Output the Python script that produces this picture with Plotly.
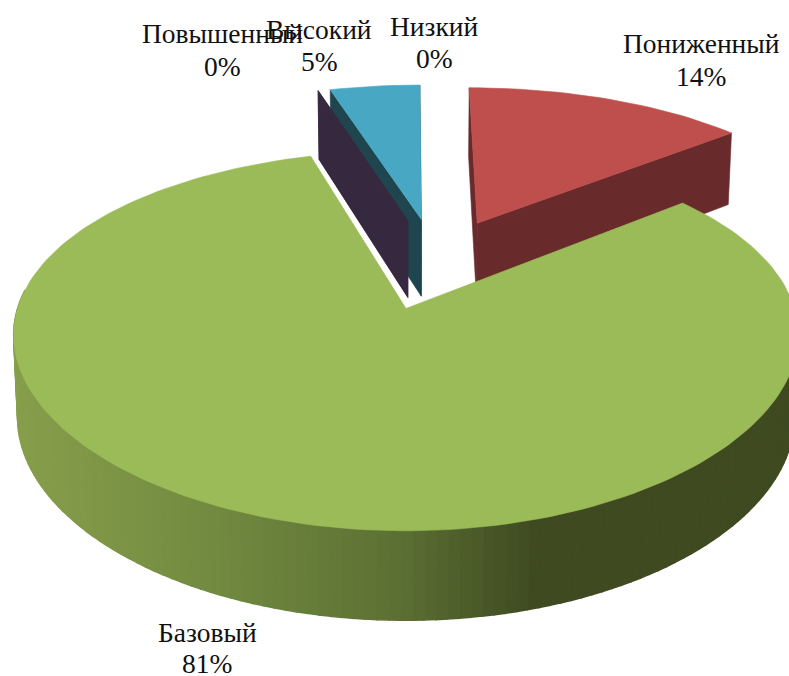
import numpy as np
import plotly.graph_objects as go

# ---- data ----
categories = ["Низкий", "Пониженный", "Базовый", "Повышенный", "Высокий"]
percents = [0, 14, 81, 0, 5]
shares = [0.0, 14.1, 81.4, 0.0, 4.5]
top_colors = ["#4F81BD", "#BE4F4C", "#9BBB59", "#8064A2", "#48A8C4"]
wall_colors = ["#2B4668", "#692A2B", "#3F4A21", "#35283F", "#1F464F"]

# ---- layout of the 3D projection ----
W, H = 789, 676
X0, Y0, A, B, KX, KY = 408, 307, 388, 184, 0.14, 0.17
CENTER = np.array([0.075, 0.25])
EXPLODE = 0.27
D0, D1, SHRINK = 81, 8.4, 0.99
label_pos = {"Низкий": (434, 26, 58), "Пониженный": (701, 43, 76), "Базовый": (207, 632, 663),
             "Повышенный": (222, 33, 66), "Высокий": (319, 29, 61)}
grad_x = [15, 200, 400, 535, 789]
grad_rgb = np.array([[135, 159, 76], [116, 140, 65], [92, 112, 52], [63, 74, 33], [63, 74, 33]])


def top(U, V):
    return X0 + A * U / (1 + KX * V), Y0 - B * V / (1 + KY * V)


def bottom(U, V):
    x, y = top(U, V)
    return X0 + (x - X0) * SHRINK, y + D0 - D1 * V


def poly(fig, x, y, color, lw=0.6):
    fig.add_trace(go.Scatter(x=list(x), y=list(y), mode="lines", fill="toself", fillcolor=color,
                             line=dict(color=color, width=lw), hoverinfo="skip", showlegend=False))


fig = go.Figure()
total = sum(shares)
edges = np.concatenate([[0], np.cumsum(shares)]) / total * 2 * np.pi
draw_order = [4, 3, 1, 2]  # the zero slice at 12 o'clock is edge-on and shows nothing
for i in draw_order:
    a0, a1 = edges[i], edges[i + 1]
    mid = (a0 + a1) / 2
    apex = CENTER + EXPLODE * np.array([np.sin(mid), np.cos(mid)])
    n = max(2, int(np.degrees(a1 - a0) / 1.5))
    t = np.linspace(a0, a1, n)
    U = apex[0] + np.sin(t)
    V = apex[1] + np.cos(t)
    # radial walls (those of the big slice lie under its own top face)
    if i != 2:
        for a in (a0, a1):
            u = np.array([apex[0], apex[0] + np.sin(a)])
            v = np.array([apex[1], apex[1] + np.cos(a)])
            xt, yt = top(u, v)
            xb, yb = bottom(u, v)
            poly(fig, [xt[0], xt[1], xb[1], xb[0], xt[0]], [yt[0], yt[1], yb[1], yb[0], yt[0]], wall_colors[i])
    if a1 > a0:
        xt, yt = top(U, V)
        xb, yb = bottom(U, V)
        for j in range(n - 1):
            if np.cos(t[j]) > 0.1:  # rear part of the rim is hidden
                continue
            if i == 2:
                xm = (xt[j] + xt[j + 1]) / 2
                rgb = [np.interp(xm, grad_x, grad_rgb[:, c]) for c in range(3)]
                col = "rgb(%d,%d,%d)" % tuple(rgb)
            else:
                col = wall_colors[i]
            poly(fig, [xt[j], xt[j + 1], xb[j + 1], xb[j], xt[j]],
                 [yt[j], yt[j + 1], yb[j + 1], yb[j], yt[j]], col, lw=1.5)
        ax, ay = top(apex[0], apex[1])
        poly(fig, [ax, *xt, ax], [ay, *yt, ay], top_colors[i])

for name, p in zip(categories, percents):
    lx, ly1, ly2 = label_pos[name]
    for txt, ly in ((name, ly1), (f"{p}%", ly2)):
        fig.add_annotation(x=lx, y=ly, text=txt, showarrow=False, xanchor="center", yanchor="middle",
                           font=dict(family="Liberation Serif", size=27.5, color="#111111"))

fig.update_layout(width=W, height=H, margin=dict(l=0, r=0, t=0, b=0), paper_bgcolor="white",
                  plot_bgcolor="white", showlegend=False,
                  xaxis=dict(range=[0, W], visible=False, fixedrange=True),
                  yaxis=dict(range=[H, 0], visible=False, fixedrange=True))
fig.write_html("out.html", config=dict(displayModeBar=False),
               post_script="document.body.style.margin='0';")
